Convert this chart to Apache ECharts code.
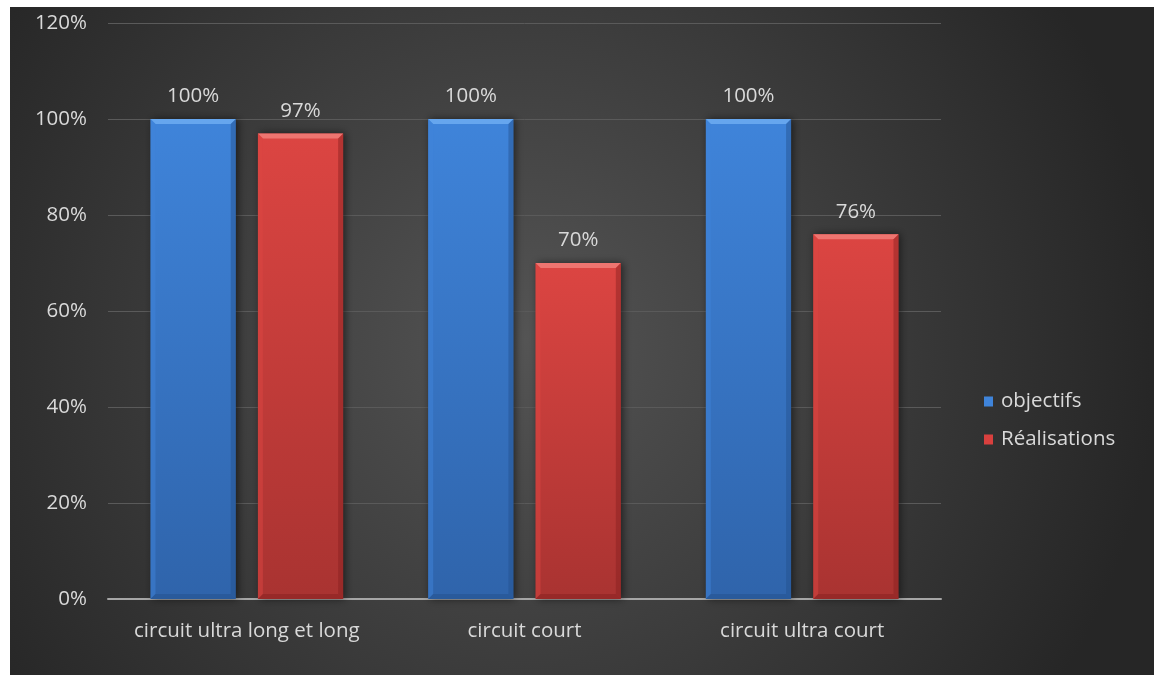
<!DOCTYPE html>
<html>
<head>
<meta charset="utf-8">
<script src="https://cdn.jsdelivr.net/npm/echarts@6/dist/echarts.min.js"></script>
<style>
  html, body { margin: 0; padding: 0; background: #ffffff; }
  #chart { position: absolute; left: 10px; top: 7px; width: 1144px; height: 668px; }
</style>
</head>
<body>
<div id="chart"></div>
<script>
// Chart data
const categories = ['circuit ultra long et long', 'circuit court', 'circuit ultra court'];
const seriesNames = ['objectifs', 'Réalisations'];
const objectifs = [100, 100, 100];
const realisations = [97, 70, 76];
const yTicks = { min: 0, max: 120, interval: 20 };

const FONT = '"Open Sans", Lato, sans-serif';
const FS = 20.5;
const TEXT = '#d9d9d9';

// Bevelled bar palettes: [top light, face top, face bottom, edge dark]
const palettes = [
  { light: '#6aaaf0', top: '#3f84da', bottom: '#2f64ab', dark: '#24508c' },
  { light: '#f07a76', top: '#dc4542', bottom: '#a93331', dark: '#86201f' }
];

function makeRenderer(seriesIndex) {
  const pal = palettes[seriesIndex];
  return function (params, api) {
    const cat = api.value(0);
    const val = api.value(1);
    const base = api.coord([cat, 0]);
    const top = api.coord([cat, val]);
    const band = api.size([1, 0])[0];
    const barW = band * 0.307;
    const gap = barW * 0.26;
    const cx = base[0] + (seriesIndex === 0 ? -1 : 1) * (gap / 2 + barW / 2);
    const x0 = cx - barW / 2, x1 = cx + barW / 2;
    const y0 = top[1], y1 = base[1];
    const b = 5; // bevel width
    const face = new echarts.graphic.LinearGradient(0, 0, 0, 1, [
      { offset: 0, color: pal.top },
      { offset: 1, color: pal.bottom }
    ]);
    return {
      type: 'group',
      children: [
        {
          type: 'rect',
          shape: { x: x0, y: y0, width: barW, height: y1 - y0 },
          style: {
            fill: face,
            shadowBlur: 8, shadowOffsetX: 2, shadowOffsetY: 0,
            shadowColor: 'rgba(0,0,0,0.55)'
          },
          textContent: {
            style: { text: val + '%', fill: TEXT, font: FS + 'px ' + FONT }
          },
          textConfig: { position: 'top', distance: 12 }
        },
        { // top bevel
          type: 'polygon',
          shape: { points: [[x0, y0], [x1, y0], [x1 - b, y0 + b], [x0 + b, y0 + b]] },
          style: { fill: pal.light, opacity: 0.9 }
        },
        { // left bevel
          type: 'polygon',
          shape: { points: [[x0, y0], [x0 + b, y0 + b], [x0 + b, y1 - b], [x0, y1]] },
          style: { fill: pal.top, opacity: 0.5 }
        },
        { // right bevel
          type: 'polygon',
          shape: { points: [[x1, y0], [x1, y1], [x1 - b, y1 - b], [x1 - b, y0 + b]] },
          style: { fill: pal.dark, opacity: 0.45 }
        },
        { // bottom bevel
          type: 'polygon',
          shape: { points: [[x0, y1], [x1, y1], [x1 - b, y1 - b], [x0 + b, y1 - b]] },
          style: { fill: pal.dark, opacity: 0.5 }
        }
      ]
    };
  };
}

function toData(values) {
  return values.map((v, i) => [i, v]);
}

const chart = echarts.init(document.getElementById('chart'));
chart.setOption({
  backgroundColor: {
    type: 'radial', x: 0.45, y: 0.5, r: 0.95,
    colorStops: [
      { offset: 0, color: '#545454' },
      { offset: 1, color: '#262626' }
    ]
  },
  grid: { left: 98, right: 213, top: 16, bottom: 76 },
  legend: {
    orient: 'vertical',
    left: 969,
    top: 379,
    icon: 'rect',
    itemWidth: 9,
    itemHeight: 10,
    itemGap: 17,
    textStyle: { color: TEXT, fontSize: FS, fontFamily: FONT, padding: [0, 0, 0, 3] },
    data: [
      { name: seriesNames[0], itemStyle: { color: '#3f84da' } },
      { name: seriesNames[1], itemStyle: { color: '#d9403e' } }
    ]
  },
  xAxis: {
    type: 'category',
    data: categories,
    axisTick: { show: false },
    axisLine: { lineStyle: { color: '#a6a6a6', width: 2 } },
    axisLabel: { color: TEXT, fontSize: FS, fontFamily: FONT, margin: 22, interval: 0 }
  },
  yAxis: {
    type: 'value',
    min: yTicks.min, max: yTicks.max, interval: yTicks.interval,
    axisLine: { show: false },
    axisTick: { show: false },
    axisLabel: { color: TEXT, fontSize: FS, fontFamily: FONT, margin: 21, formatter: '{value}%' },
    splitLine: { lineStyle: { color: '#5a5a5a', width: 1 } }
  },
  series: [
    {
      name: seriesNames[0], type: 'custom',
      itemStyle: { color: '#3f84da' },
      renderItem: makeRenderer(0),
      encode: { x: 0, y: 1 },
      data: toData(objectifs)
    },
    {
      name: seriesNames[1], type: 'custom',
      itemStyle: { color: '#d9403e' },
      renderItem: makeRenderer(1),
      encode: { x: 0, y: 1 },
      data: toData(realisations)
    }
  ]
});
</script>
</body>
</html>
